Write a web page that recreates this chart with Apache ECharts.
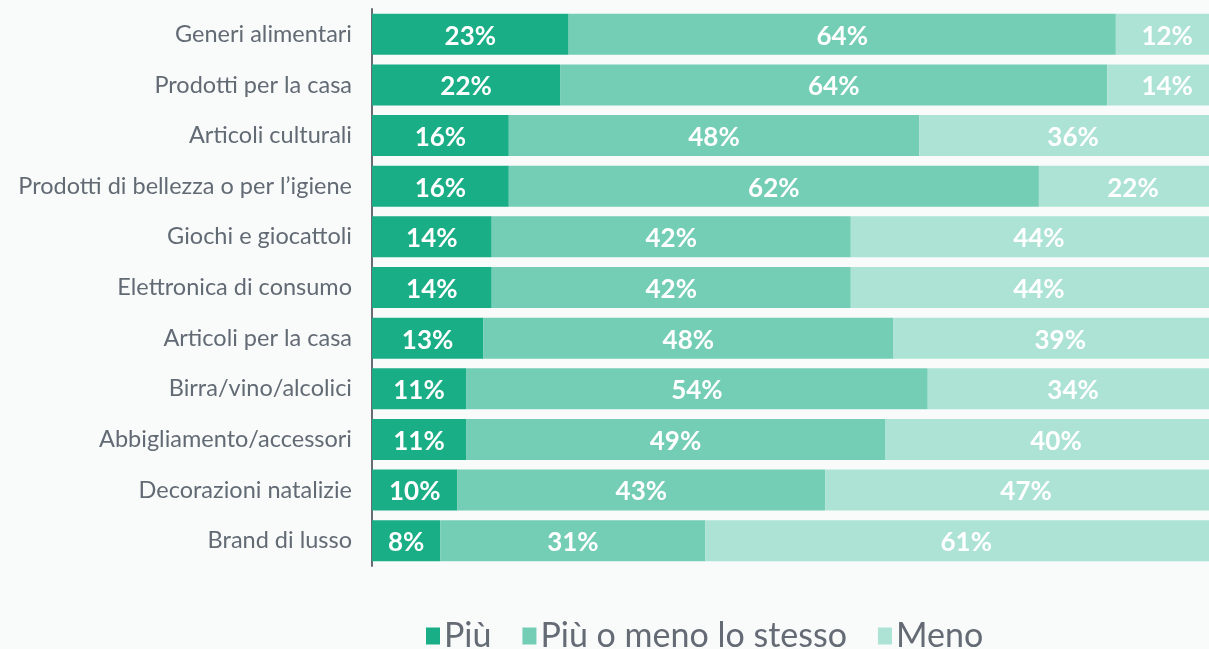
<!DOCTYPE html>
<html lang="it">
<head>
    <meta charset="UTF-8">
    <title>Acquisti</title>
    <style>
      html, body { margin: 0; padding: 0; background: #f9fbfb; }
    </style>
</head>
<body>
    <div id="main" style="width: 1209px; height: 649px;"></div>
    <script src="https://cdn.jsdelivr.net/npm/echarts@6/dist/echarts.min.js"></script>
    <script>
      const categories = [
        'Generi alimentari',
        'Prodotti per la casa',
        'Articoli culturali',
        'Prodotti di bellezza o per l\u2019igiene',
        'Giochi e giocattoli',
        'Elettronica di consumo',
        'Articoli per la casa',
        'Birra/vino/alcolici',
        'Abbigliamento/accessori',
        'Decorazioni natalizie',
        'Brand di lusso'
      ];
      const piu = [23, 22, 16, 16, 14, 14, 13, 11, 11, 10, 8];
      const stesso = [64, 64, 48, 62, 42, 42, 48, 54, 49, 43, 31];
      const meno = [12, 14, 36, 22, 44, 44, 39, 34, 40, 47, 61];

      var chartDom = document.getElementById('main');
      var myChart = echarts.init(chartDom);
      var option;

      const font = "'Century Gothic', 'Lato', sans-serif";
      const labelOption = {
        show: true,
        position: 'inside',
        color: '#ffffff',
        fontFamily: font,
        fontWeight: 'bold',
        fontSize: 26,
        offset: [0, 2],
        formatter: '{c}%'
      };

      option = {
        backgroundColor: '#f9fbfb',
        animation: false,
        grid: {
          left: 372,
          width: 855,
          top: 9,
          bottom: 83,
          outerBoundsMode: 'none'
        },
        legend: {
          top: 614,
          left: 421,
          itemWidth: 14,
          itemHeight: 17,
          itemGap: 31,
          icon: 'rect',
          textStyle: {
            fontFamily: font,
            fontSize: 34,
            color: '#646b75',
            padding: [0, 0, 0, -1]
          },
          data: ['Più', 'Più o meno lo stesso', 'Meno']
        },
        xAxis: {
          type: 'value',
          min: 0,
          max: 100,
          show: false
        },
        yAxis: {
          type: 'category',
          inverse: true,
          data: categories,
          axisTick: { show: false },
          axisLine: { lineStyle: { color: '#676c74', width: 2 } },
          axisLabel: {
            margin: 20,
            fontFamily: font,
            fontSize: 23.5,
            color: '#626a74'
          }
        },
        series: [
          {
            name: 'Più',
            type: 'bar',
            stack: 'tot',
            barWidth: '81%',
            itemStyle: { color: '#19ae85' },
            label: labelOption,
            data: piu
          },
          {
            name: 'Più o meno lo stesso',
            type: 'bar',
            stack: 'tot',
            itemStyle: { color: '#74ceb5' },
            label: labelOption,
            data: stesso
          },
          {
            name: 'Meno',
            type: 'bar',
            stack: 'tot',
            itemStyle: { color: '#ade3d5' },
            label: labelOption,
            data: meno
          }
        ]
      };

      option && myChart.setOption(option);
    </script>
</body>
</html>
